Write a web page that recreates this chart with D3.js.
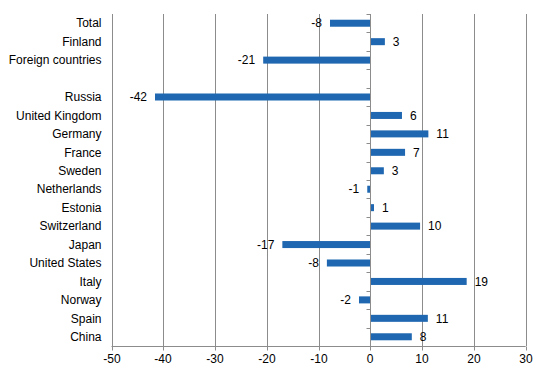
<!DOCTYPE html>
<html>
<head>
<meta charset="utf-8">
<script src="https://cdn.jsdelivr.net/npm/d3@7"></script>
<style>
  body { margin: 0; background: #fff; }
  text { font-family: "Liberation Sans", Arial, sans-serif; font-size: 12px; fill: #000; }
</style>
</head>
<body>
<script>
// Categories, top to bottom ("" is the empty row)
var categories = ["Total", "Finland", "Foreign countries", "", "Russia", "United Kingdom",
  "Germany", "France", "Sweden", "Netherlands", "Estonia", "Switzerland", "Japan",
  "United States", "Italy", "Norway", "Spain", "China"];

// Change values
var values = [-7.8, 2.8, -20.7, null, -41.6, 6.1, 11.2, 6.7, 2.6, -0.6, 0.7, 9.6, -17.0,
  -8.4, 18.6, -2.2, 11.1, 8.0];

var xTicks = [-50, -40, -30, -20, -10, 0, 10, 20, 30];

var w = 546;
var h = 376;
var plotLeft = 111.5, plotRight = 525.7, plotTop = 14, plotBottom = 346;

var xScale = d3.scaleLinear().domain([-50, 30]).range([plotLeft, plotRight]);
var yScale = d3.scaleBand().domain(categories).range([plotTop, plotBottom]).paddingInner(0.62).paddingOuter(0.31);

var svg = d3.select("body").append("svg").attr("width", w).attr("height", h);

// vertical gridlines
svg.append("g")
  .selectAll("line")
  .data(xTicks)
  .enter()
  .append("line")
  .attr("x1", function (d) { return Math.round(xScale(d)) + 0.5; })
  .attr("x2", function (d) { return Math.round(xScale(d)) + 0.5; })
  .attr("y1", plotTop)
  .attr("y2", plotBottom)
  .attr("stroke", "#8c8c8c")
  .attr("stroke-width", 1);

// plain hyphen for negatives, like the original
var fmt = function (v) { return d3.format(".0f")(v).replace("\u2212", "-"); };

// bottom axis
var xAxis = d3.axisBottom(xScale).tickValues(xTicks).tickSize(4).tickPadding(4).tickFormat(fmt);
var gx = svg.append("g")
  .attr("transform", "translate(0," + (Math.round(plotBottom) + 0.5) + ")")
  .call(xAxis);
gx.select(".domain").attr("stroke", "#8c8c8c").attr("d", "M" + plotLeft + ",0H" + plotRight);
gx.selectAll(".tick line").attr("stroke", "#8c8c8c").attr("transform", "translate(0.5,0)");
gx.selectAll(".tick text").style("font-size", "12px").attr("fill", "#000");
gx.selectAll(".tick").attr("transform", function (d) { return "translate(" + Math.round(xScale(d)) + ",0)"; });

// bars
var rows = categories.map(function (c, i) { return { name: c, value: values[i] }; })
  .filter(function (d) { return d.value !== null; });

svg.append("g")
  .selectAll("rect")
  .data(rows)
  .enter()
  .append("rect")
  .attr("x", function (d) { return xScale(Math.min(0, d.value)); })
  .attr("width", function (d) { return Math.abs(xScale(d.value) - xScale(0)); })
  .attr("y", function (d) { return yScale(d.name); })
  .attr("height", yScale.bandwidth())
  .attr("fill", "#1f67b0");

// zero axis with row ticks
var step = yScale.step();
var x0 = Math.round(xScale(0)) + 0.5;
svg.append("line")
  .attr("x1", x0).attr("x2", x0)
  .attr("y1", plotTop).attr("y2", plotBottom)
  .attr("stroke", "#8c8c8c");
svg.append("g")
  .selectAll("line")
  .data(d3.range(categories.length))
  .enter()
  .append("line")
  .attr("x1", x0 - 4).attr("x2", x0)
  .attr("y1", function (i) { return Math.round(plotTop + i * step) + 0.5; })
  .attr("y2", function (i) { return Math.round(plotTop + i * step) + 0.5; })
  .attr("stroke", "#8c8c8c");

// category labels
svg.append("g")
  .selectAll("text")
  .data(categories)
  .enter()
  .append("text")
  .attr("x", plotLeft - 10)
  .attr("y", function (d) { return yScale(d) + yScale.bandwidth() / 2; })
  .attr("dy", "0.35em")
  .attr("text-anchor", "end")
  .text(function (d) { return d; });

// value labels
svg.append("g")
  .selectAll("text")
  .data(rows)
  .enter()
  .append("text")
  .attr("x", function (d) { return d.value < 0 ? xScale(d.value) - 8 : xScale(d.value) + 8; })
  .attr("y", function (d) { return yScale(d.name) + yScale.bandwidth() / 2; })
  .attr("dy", "0.35em")
  .attr("text-anchor", function (d) { return d.value < 0 ? "end" : "start"; })
  .text(function (d) { return fmt(d.value); });
</script>
</body>
</html>
